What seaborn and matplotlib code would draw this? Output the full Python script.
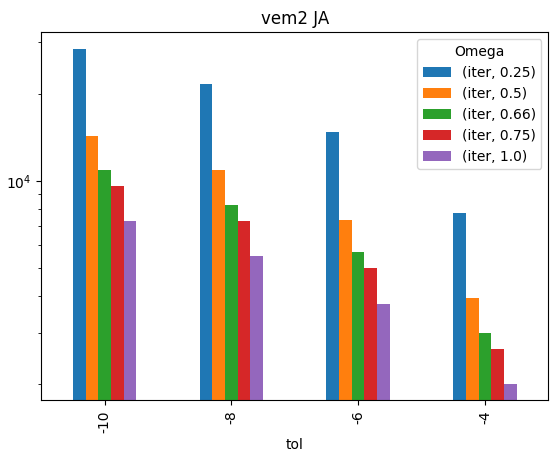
import pandas as pd
import matplotlib
matplotlib.use('Agg')
import matplotlib.pyplot as plt
import seaborn as sns

tol = ['-10', '-8', '-6', '-4']
omega = ['(iter, 0.25)', '(iter, 0.5)', '(iter, 0.66)', '(iter, 0.75)', '(iter, 1.0)']
iters = {
    '(iter, 0.25)': [28500, 21600, 14800, 7780],
    '(iter, 0.5)': [14300, 10900, 7330, 3940],
    '(iter, 0.66)': [10900, 8290, 5670, 2990],
    '(iter, 0.75)': [9600, 7300, 4990, 2630],
    '(iter, 1.0)': [7260, 5490, 3760, 2000],
}

rows = []
for om in omega:
    for t, v in zip(tol, iters[om]):
        rows.append({'tol': t, 'Omega': om, 'iter': v})
df = pd.DataFrame(rows)

fig, ax = plt.subplots(figsize=(5.51, 4.63), dpi=100)
sns.barplot(data=df, x='tol', y='iter', hue='Omega', order=tol, hue_order=omega,
            palette='tab10', width=0.5, saturation=1, ax=ax)
ax.set_yscale('log')
ax.set_ylim(1750, 32500)
ax.set_ylabel('')
ax.set_title('vem2 JA')
ax.tick_params(axis='x', labelrotation=90)
ax.legend(title='Omega', loc='upper right')
plt.subplots_adjust(left=0.075, right=0.995, top=0.93, bottom=0.135)
fig.savefig('out.png')
